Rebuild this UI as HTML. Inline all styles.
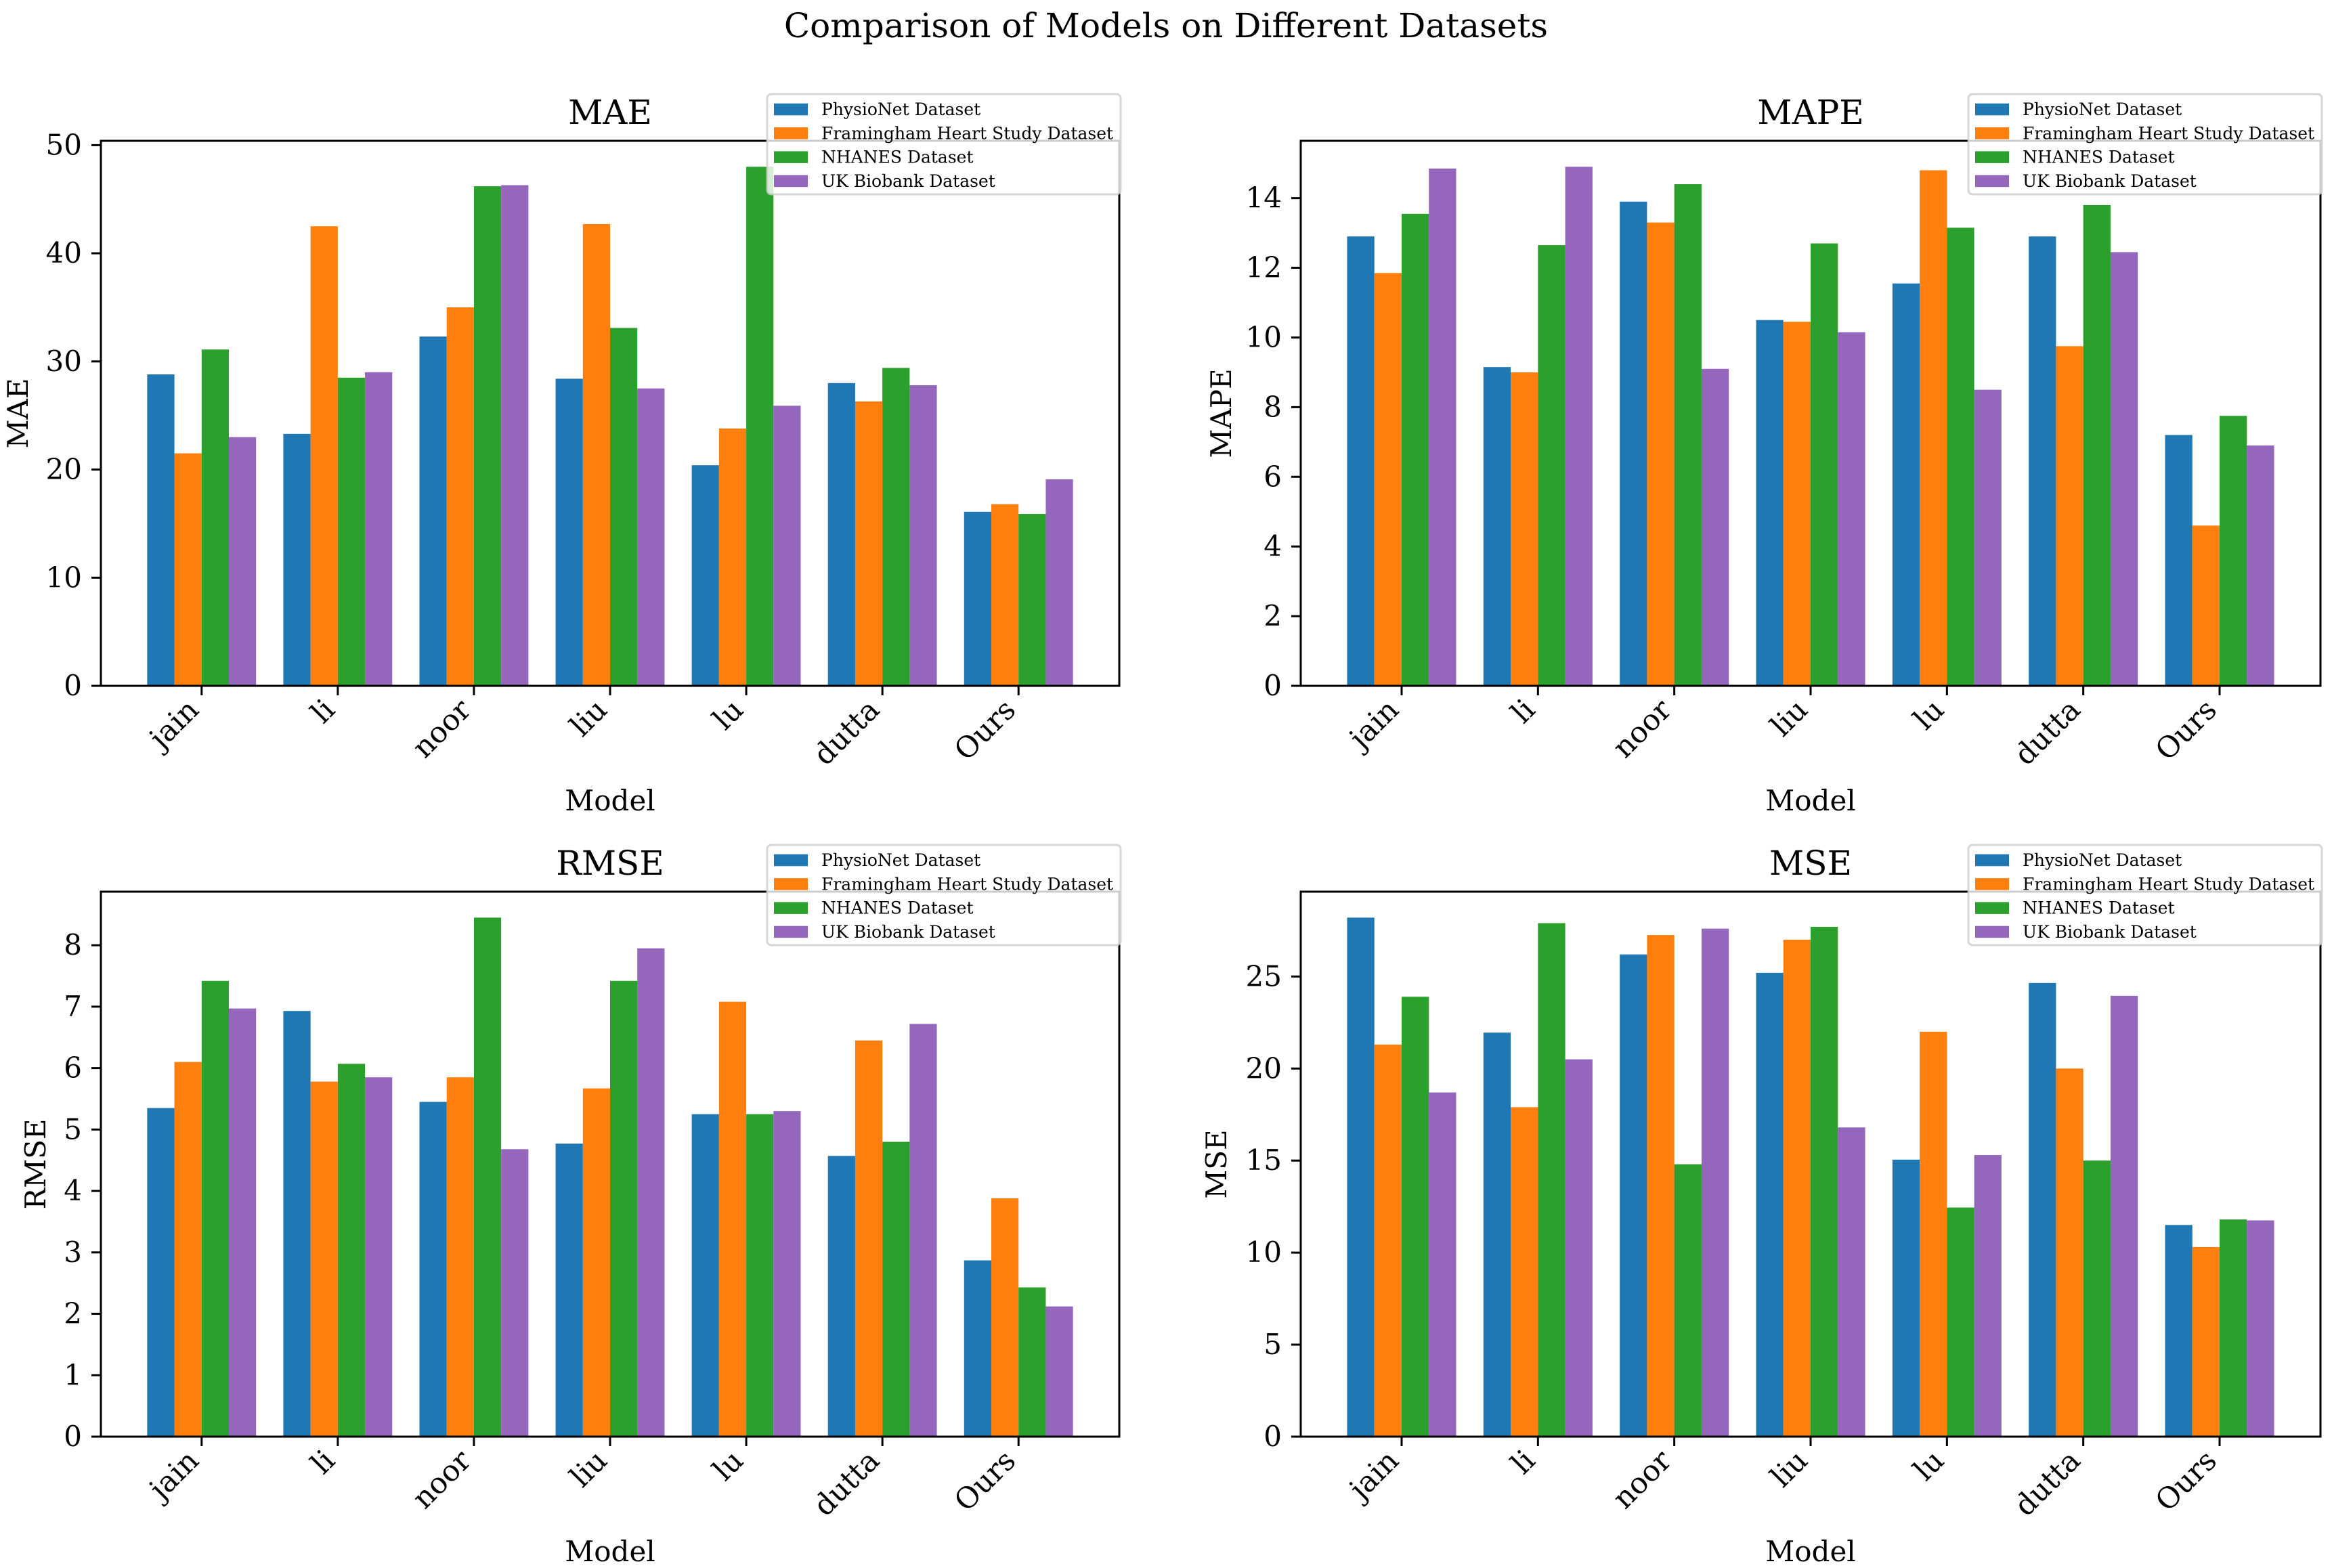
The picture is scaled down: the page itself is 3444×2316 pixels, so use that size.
<!DOCTYPE html>
<html><head><meta charset="utf-8"><style>
html,body{margin:0;padding:0;background:#fff;}
svg{display:block;font-family:"DejaVu Serif","Liberation Serif",serif;}
</style></head><body>
<svg id="fig" width="3444" height="2316" viewBox="0 0 3444 2316" xmlns="http://www.w3.org/2000/svg">
<text x="1722" y="55" font-size="50" text-anchor="middle">Comparison of Models on Different Datasets</text>
</svg>
<script>
const categories = ["jain","li","noor","liu","lu","dutta","Ours"];
const seriesNames = ["PhysioNet Dataset","Framingham Heart Study Dataset","NHANES Dataset","UK Biobank Dataset"];
const colors = ["#1f77b4","#ff7f0e","#2ca02c","#9467bd"];
const maePhysio = [28.8,23.3,32.3,28.4,20.4,28.0,16.1];
const maeFram = [21.5,42.5,35.0,42.7,23.8,26.3,16.8];
const maeNhanes = [31.1,28.5,46.2,33.1,48.0,29.4,15.9];
const maeUkb = [23.0,29.0,46.3,27.5,25.9,27.8,19.1];
const mapePhysio = [12.9,9.15,13.9,10.5,11.55,12.9,7.2];
const mapeFram = [11.85,9.0,13.3,10.45,14.8,9.75,4.6];
const mapeNhanes = [13.55,12.65,14.4,12.7,13.15,13.8,7.75];
const mapeUkb = [14.85,14.9,9.1,10.15,8.5,12.45,6.9];
const rmsePhysio = [5.35,6.93,5.45,4.77,5.25,4.57,2.87];
const rmseFram = [6.1,5.78,5.85,5.67,7.08,6.45,3.88];
const rmseNhanes = [7.42,6.07,8.45,7.42,5.25,4.8,2.43];
const rmseUkb = [6.97,5.85,4.68,7.95,5.3,6.72,2.12];
const msePhysio = [28.2,21.95,26.2,25.2,15.05,24.65,11.5];
const mseFram = [21.3,17.9,27.25,27.0,22.0,20.0,10.3];
const mseNhanes = [23.9,27.9,14.8,27.7,12.45,15.0,11.8];
const mseUkb = [18.7,20.5,27.6,16.8,15.3,23.95,11.75];
const maeTicks = [0,10,20,30,40,50];
const mapeTicks = [0,2,4,6,8,10,12,14];
const rmseTicks = [0,1,2,3,4,5,6,7,8];
const mseTicks = [0,5,10,15,20,25];

const NS="http://www.w3.org/2000/svg";
const svg=document.getElementById('fig');
function mk(tag,attrs,parent){const e=document.createElementNS(NS,tag);for(const k in attrs)e.setAttribute(k,attrs[k]);(parent||svg).appendChild(e);return e;}

const panels=[
 {name:"MAE",series:[maePhysio,maeFram,maeNhanes,maeUkb],ticks:maeTicks,L:149,R:1653,T:208,B:1013,lab:27},
 {name:"MAPE",series:[mapePhysio,mapeFram,mapeNhanes,mapeUkb],ticks:mapeTicks,L:1921,R:3427,T:208,B:1013,lab:1804},
 {name:"RMSE",series:[rmsePhysio,rmseFram,rmseNhanes,rmseUkb],ticks:rmseTicks,L:149,R:1653,T:1317,B:2122,lab:53},
 {name:"MSE",series:[msePhysio,mseFram,mseNhanes,mseUkb],ticks:mseTicks,L:1921,R:3427,T:1317,B:2122,lab:1797}
];

panels.forEach(p=>{
  const g=mk('g',{});
  
  
  let mx=0;p.series.forEach(s=>s.forEach(v=>{if(v>mx)mx=v;}));
  const ymax=mx*1.05;
  const n=categories.length;
  const x0=-0.4-0.34, x1=(n-1)+0.4+0.34;
  const xs=v=>p.L+(v-x0)/(x1-x0)*(p.R-p.L);
  const ys=v=>p.B-v/ymax*(p.B-p.T);
  p.series.forEach((s,si)=>{
    s.forEach((v,ci)=>{
      const c=ci+(si-1.5)*0.2;
      const r=mk('rect',{x:xs(c-0.1),y:ys(v),width:xs(c+0.1)-xs(c-0.1),height:ys(0)-ys(v),fill:colors[si]},g);
      
      
    });
  });
  const fr=mk('rect',{x:p.L,y:p.T,width:p.R-p.L,height:p.B-p.T,fill:'none',stroke:'#000','stroke-width':3},g);
  
  
  p.ticks.forEach(t=>{
    const y=ys(t);
    const tl=mk('line',{x1:p.L-14,x2:p.L,y1:y,y2:y,stroke:'#000','stroke-width':3},g);
    
    
    const tx=mk('text',{x:p.L-28,y:y+14,'font-size':42,'text-anchor':'end'},g);
    tx.textContent=t;
    
    
  });
  categories.forEach((c,ci)=>{
    const x=xs(ci);
    const tl=mk('line',{x1:x,x2:x,y1:p.B,y2:p.B+14,stroke:'#000','stroke-width':3},g);
    
    
    const tx=mk('text',{'font-size':43,'text-anchor':'end',transform:`translate(${x-2},${p.B+38}) rotate(-45)`},g);
    tx.textContent=c;
    
    
  });
  const ti=mk('text',{x:(p.L+p.R)/2,y:p.T-25,'font-size':50,'text-anchor':'middle'},g);
  ti.textContent=p.name;
  
  
  const xl=mk('text',{x:(p.L+p.R)/2,y:p.B+184,'font-size':42,'text-anchor':'middle'},g);
  xl.textContent='Model';
  
  
  const yl=mk('text',{'font-size':42,'text-anchor':'middle',transform:`translate(${p.lab+14},${(p.T+p.B)/2}) rotate(-90)`},g);
  yl.textContent=p.name;
  
  
  const lx=p.R+2-522, ly=p.T-69;
  const lg=mk('g',{},g);
  
  
  mk('rect',{x:lx,y:ly,width:522,height:148,rx:6,fill:'rgba(255,255,255,0.8)',stroke:'rgba(204,204,204,0.8)','stroke-width':3},lg);
  seriesNames.forEach((s,si)=>{
    const cy=ly+20+si*35.3;
    const sw=mk('rect',{x:lx+10,y:cy+2.5-8.7,width:50,height:17.5,fill:colors[si]},lg);
    
    
    const lt=mk('text',{x:lx+80,y:cy+11,'font-size':25},lg);
    lt.textContent=s;
    
    
  });
});
</script>
</body></html>
